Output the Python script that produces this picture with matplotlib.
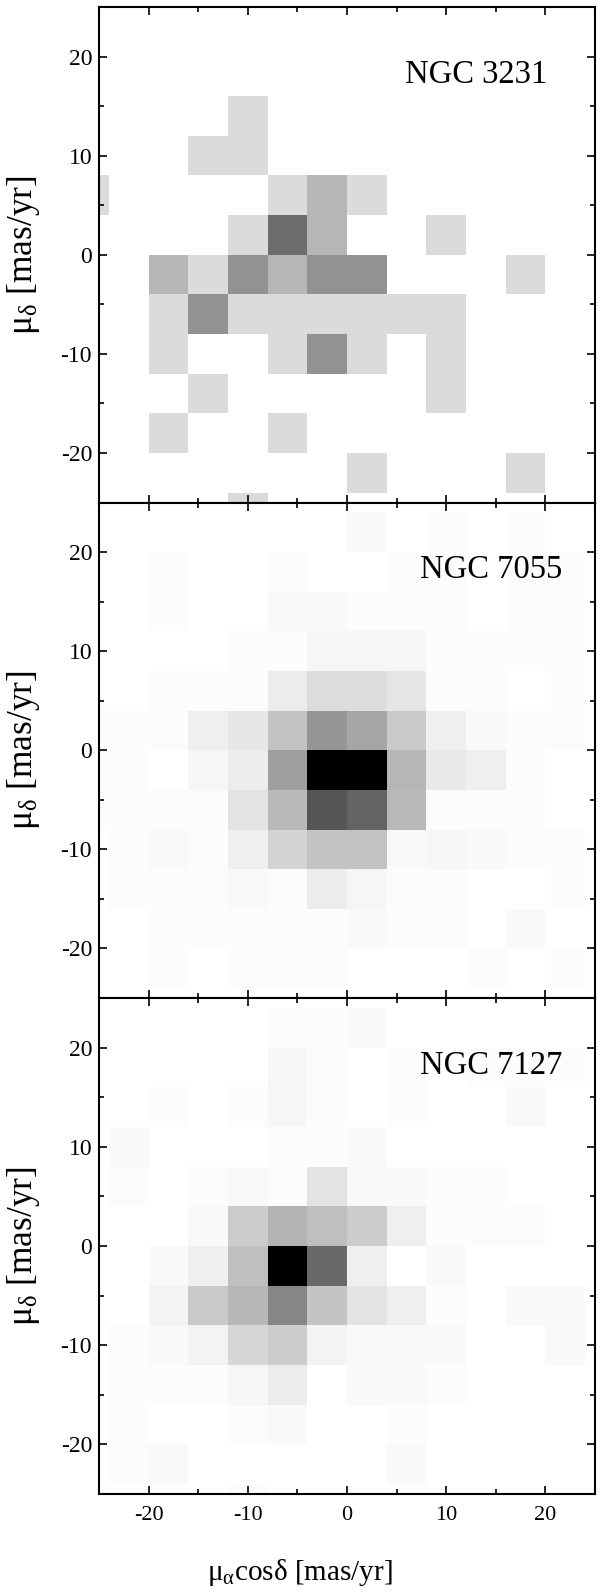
import numpy as np
import matplotlib
matplotlib.use("Agg")
import matplotlib.pyplot as plt
from matplotlib.ticker import MultipleLocator

plt.rcParams['font.family'] = ['Liberation Serif', 'DejaVu Serif']
plt.rcParams['mathtext.fontset'] = 'custom'
plt.rcParams['mathtext.rm'] = 'Liberation Serif'
plt.rcParams['mathtext.it'] = 'Liberation Serif:italic'
plt.rcParams['axes.unicode_minus'] = False

# bin edges (mas/yr)
bin_edges = list(range(-28, 29, 4))

cluster_names = ["NGC 3231", "NGC 7055", "NGC 7127"]

# counts per cell, rows listed from top (mu_delta = +26) to bottom (-26),
# columns from mu_alpha = -26 to +26
counts_3231 = [
    [0,0,0,0,0,0,0,0,0,0,0,0,0,0],
    [0,0,0,0,0,0,0,0,0,0,0,0,0,0],
    [0,0,0,0,0,0,0,0,0,0,0,0,0,0],
    [0,0,0,0,1,0,0,0,0,0,0,0,0,0],
    [0,0,0,1,1,0,0,0,0,0,0,0,0,0],
    [1,0,0,0,0,1,2,1,0,0,0,0,0,0],
    [0,0,0,0,1,4,2,0,0,1,0,0,0,0],
    [0,0,2,1,3,2,3,3,0,0,0,1,0,0],
    [0,0,1,3,1,1,1,1,1,1,0,0,0,0],
    [0,0,1,0,0,1,3,1,0,1,0,0,0,0],
    [0,0,0,1,0,0,0,0,0,1,0,0,0,0],
    [0,0,1,0,0,1,0,0,0,0,0,0,0,0],
    [0,0,0,0,0,0,0,1,0,0,0,1,0,0],
    [0,0,0,0,1,0,0,0,0,0,0,0,0,0],
]

counts_7055 = [
    [0,0,0,0,0,0,0,0,0,0,0,0,0,0],
    [0,0,0,0,0,0,0,2,0,1,0,1,0,0],
    [0,0,1,0,0,1,0,0,1,1,0,1,1,0],
    [0,0,1,0,0,2,2,1,1,1,0,1,1,0],
    [0,0,0,0,1,1,3,3,3,1,1,1,1,0],
    [0,0,1,1,1,6,11,11,8,1,1,0,1,0],
    [1,1,1,5,8,19,33,28,17,5,2,1,1,0],
    [1,1,0,3,6,30,80,80,23,7,5,1,0,0],
    [1,1,1,1,9,22,53,49,22,1,1,1,0,0],
    [0,1,2,1,5,14,19,19,2,3,2,1,1,0],
    [0,1,1,1,2,1,6,3,1,1,0,0,1,0],
    [0,0,1,1,1,1,1,2,1,1,0,2,0,0],
    [0,0,1,0,1,1,1,0,0,0,1,0,1,0],
    [0,0,0,0,0,0,0,0,0,0,0,0,0,0],
]

counts_7127 = [
    [0,0,0,0,0,0,0,0,0,0,0,0,0,0],
    [0,0,0,0,0,1,1,2,0,0,0,0,0,0],
    [0,0,0,0,0,3,1,0,1,0,1,1,1,0],
    [0,0,1,0,1,3,1,0,1,0,0,2,0,0],
    [0,2,0,0,0,1,1,2,0,0,0,0,0,0],
    [0,1,0,1,2,1,9,2,2,1,1,0,0,0],
    [0,0,0,2,16,24,20,16,5,1,1,1,0,0],
    [0,0,2,5,20,80,47,5,0,2,0,0,0,0],
    [0,0,4,17,23,38,19,9,5,1,0,2,2,0],
    [0,1,2,4,13,16,4,2,2,2,0,0,2,0],
    [0,1,1,1,3,6,0,2,2,1,0,0,0,0],
    [0,1,0,0,1,2,0,0,1,0,0,0,0,0],
    [0,1,2,0,0,0,0,0,2,0,0,0,0,0],
    [0,0,0,0,1,0,0,0,0,0,0,0,0,0],
]

vmax_list = [7, 80, 80]
all_counts = [counts_3231, counts_7055, counts_7127]

W, H = 600, 1594
fig = plt.figure(figsize=(W / 100, H / 100), dpi=100)

left_px, right_px = 99, 595
bounds_px = [7, 502.5, 998, 1494]
label_right = [0.903, 0.933, 0.935]

axes = []
for i in range(3):
    top, bot = bounds_px[i], bounds_px[i + 1]
    ax = fig.add_axes([left_px / W, 1 - bot / H, (right_px - left_px) / W, (bot - top) / H])
    axes.append(ax)
    data = np.array(all_counts[i], dtype=float)[::-1]
    ax.pcolormesh(bin_edges, bin_edges, data, cmap='gray_r', vmin=0, vmax=vmax_list[i],
                  shading='flat', edgecolors='none', antialiased=False)
    ax.set_xlim(-25, 25)
    ax.set_ylim(-25, 25)
    ax.xaxis.set_major_locator(MultipleLocator(10))
    ax.xaxis.set_minor_locator(MultipleLocator(5))
    ax.yaxis.set_major_locator(MultipleLocator(10))
    ax.yaxis.set_minor_locator(MultipleLocator(5))
    ax.tick_params(which='both', direction='in', top=True, right=True, width=1.2, colors='black')
    ax.tick_params(which='major', length=6)
    ax.tick_params(which='minor', length=3.5)
    ax.tick_params(axis='y', labelsize=17, pad=5)
    ax.tick_params(axis='x', labelsize=16, pad=9)
    for s in ax.spines.values():
        s.set_linewidth(1.5)
    ax.set_ylabel(r'$\mathrm{\mu_{\delta}}$ [mas/yr]', fontsize=25.5, labelpad=13)
    if i < 2:
        ax.tick_params(axis='x', labelbottom=False)
    ax.text(label_right[i], 0.864, cluster_names[i], transform=ax.transAxes,
            ha='right', va='center', fontsize=23.5)

fig.text(0.5, 1 - 1572 / H, r'$\mathrm{\mu_{\alpha}}$cos$\mathrm{\delta}$ [mas/yr]',
         ha='center', va='center', fontsize=21)

fig.savefig('out.png', dpi=100)
